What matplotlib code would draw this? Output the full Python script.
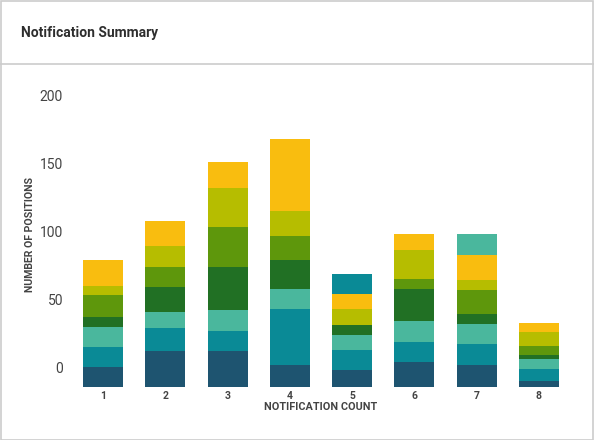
import numpy as np
import matplotlib
matplotlib.use('Agg')
from matplotlib import pyplot as plt
from matplotlib import transforms
from matplotlib.patches import Rectangle
from matplotlib.lines import Line2D

plt.rcParams['font.family'] = ['Roboto', 'DejaVu Sans']

# Data
counts = [1, 2, 3, 4, 5, 6, 7, 8]
s1 = [14, 26, 26, 16, 12, 18, 16, 4]
s2 = [15, 17, 15, 41, 15, 15, 15, 9]
s3 = [15, 12, 15, 15, 11, 15, 15, 7]
s4 = [7, 18, 32, 21, 7, 24, 7, 3]
s5 = [16, 15, 29, 18, 0, 7, 18, 7]
s6 = [7, 15, 29, 18, 12, 21, 7, 10]
s7 = [19, 19, 19, 53, 11, 12, 19, 7]
s8 = [0, 0, 0, 0, 15, 0, 0, 0]
s9 = [0, 0, 0, 0, 0, 0, 15, 0]
yticks = [0, 50, 100, 150, 200]

series = [s1, s2, s3, s4, s5, s6, s7, s8, s9]
colors = ['#1e5470', '#0a8a96', '#4ab79d', '#217024', '#5e970c',
          '#b6bd00', '#f9bd0f', '#0a8a96', '#4ab79d']

W, H = 594, 440
fig = plt.figure(figsize=(W/100, H/100), dpi=100)

# card frame + header separator
fig.patches.append(Rectangle((0.5/W, 0.5/H), 1 - 1.5/W, 1 - 1.5/H,
                             transform=fig.transFigure, fill=False,
                             edgecolor='#cccccc', lw=1.2))
fig.lines.append(Line2D([0, 1], [1 - 64/H, 1 - 64/H], transform=fig.transFigure,
                        color='#cccccc', lw=1.2))
fig.text(21/W, 1 - 33/H, 'Notification Summary', fontsize=10,
         fontweight='bold', color='#2e2e2e', va='center', ha='left')

ax = fig.add_axes([72/W, (H - 386.5)/H, 498/W, (386.5 - 100)/H])

x = np.array(counts)
bottom = np.zeros(len(counts))
for s, c in zip(series, colors):
    vals = np.array(s, dtype=float)
    ax.bar(x, vals, width=0.64, bottom=bottom, color=c, lw=0)
    bottom += vals

ax.set_xlim(0.5, 8.5)
ax.set_ylim(0, (386.5 - 100)/1.36)
for sp in ax.spines.values():
    sp.set_visible(False)
ax.set_xticks(counts)
ax.set_xticklabels([str(c) for c in counts], fontsize=7.5, color='#444444',
                   fontweight='bold')
ax.tick_params(axis='x', length=0, pad=3)
ax.set_yticks([])

# y tick labels sit a bit above their values in the original
off = transforms.ScaledTranslation(-9/100, 17.5/100, fig.dpi_scale_trans)
for t in yticks:
    ax.text(0, t, str(t), transform=ax.get_yaxis_transform() + off,
            ha='right', va='center', fontsize=10, color='#444444')

fig.text(30/W, 1 - 235/H, 'NUMBER OF POSITIONS', rotation=90, fontsize=7.6,
         fontweight='bold', color='#444444', ha='center', va='center')
fig.text(321/W, 1 - 407/H, 'NOTIFICATION COUNT', fontsize=7.8,
         fontweight='bold', color='#444444', ha='center', va='center')

fig.savefig('out.png', dpi=100)
